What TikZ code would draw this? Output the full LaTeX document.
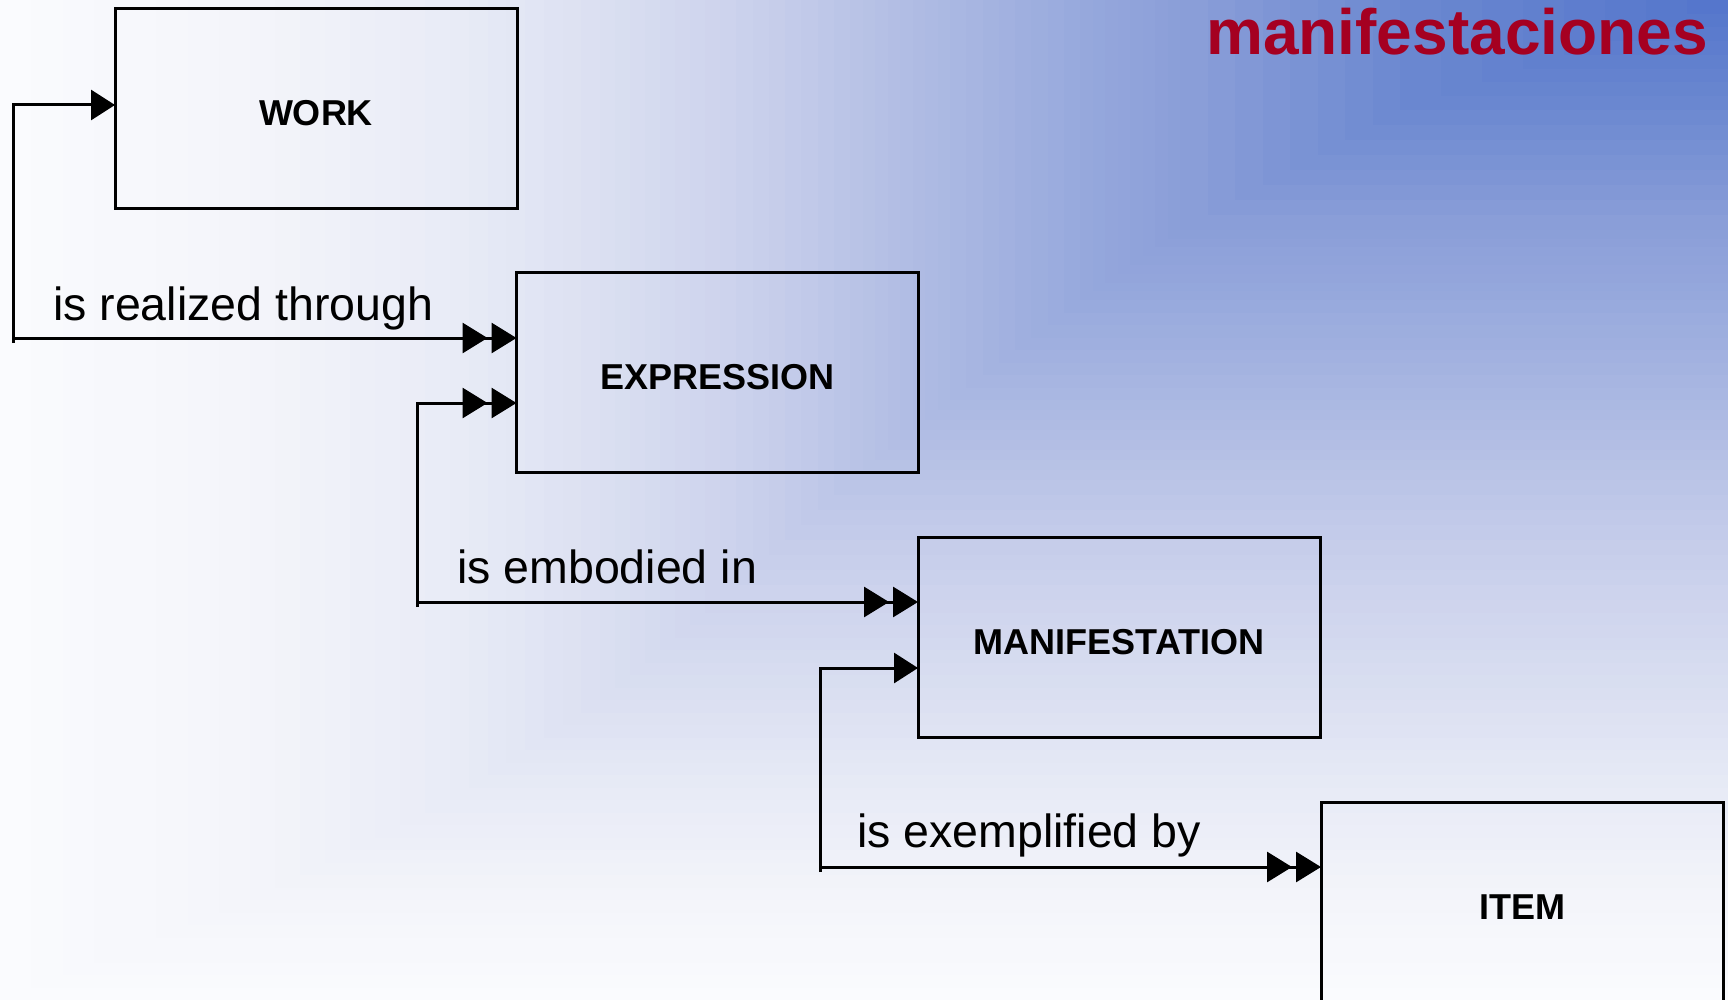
\documentclass[tikz,border=0pt]{standalone}
\usepackage{fontspec}
\setmainfont{Liberation Sans}
\usetikzlibrary{arrows.meta,calc}
\definecolor{s0}{HTML}{5274CB}
\definecolor{s1}{HTML}{6A87D0}
\definecolor{s2}{HTML}{8A9ED8}
\definecolor{s3}{HTML}{96A8DC}
\definecolor{s4}{HTML}{A9B7E2}
\definecolor{s5}{HTML}{B9C3E6}
\definecolor{s6}{HTML}{CDD3ED}
\definecolor{s7}{HTML}{DADFF1}
\definecolor{s8}{HTML}{E8EBF6}
\definecolor{s9}{HTML}{F3F4FA}
\definecolor{s10}{HTML}{FAFBFE}
\definecolor{titlered}{HTML}{A50021}
\tikzset{
  entity/.style={draw=black, line width=3pt, minimum width=402pt, minimum height=200pt,
    inner sep=0pt, outer sep=0pt, text height=34pt, text depth=0pt,
    font=\bfseries\fontsize{36}{40}\selectfont},
  rel/.style={line width=3pt, draw=black},
  onetip/.tip={Triangle[length=24pt,width=30pt]},
  manytip/.tip={Triangle[length=25pt,width=30pt,sep=4pt] Triangle[length=25pt,width=30pt]},
  lbl/.style={anchor=base west, inner sep=0pt, font=\fontsize{46.5}{50}\selectfont},
}
\begin{document}
\begin{tikzpicture}[x=1pt,y=-1pt]
\useasboundingbox (0,0) rectangle (1728,1000);
\clip (0,0) rectangle (1728,1000);
% background: box gradient towards the top right corner
\foreach \xa/\ya/\ca/\xb/\yb/\cb in {0/1000/s10/250/900/s9, 250/900/s9/450/800/s8,
  450/800/s8/600/700/s7, 600/700/s7/720/600/s6, 720/600/s6/850/480/s5,
  850/480/s5/950/400/s4, 950/400/s4/1080/300/s3, 1080/300/s3/1180/230/s2,
  1180/230/s2/1400/110/s1, 1400/110/s1/1728/0/s0}{
  \foreach \j in {0,...,7}{
    \pgfmathsetmacro\f{\j/8}
    \pgfmathsetmacro\xx{\xa+(\xb-\xa)*\f}
    \pgfmathsetmacro\yy{\ya+(\yb-\ya)*\f}
    \pgfmathsetmacro\pc{100*\f}
    \fill[\cb!\pc!\ca] (\xx,0) rectangle (1728,\yy);
  }
}
% title
\node[anchor=base east, inner sep=0pt, text=titlered, font=\bfseries\fontsize{64}{70}\selectfont] (title) at (1708,55) {manifestaciones};
% entities
\node[entity] (work) at (316,108.5) {WORK};
\node[entity] (expr) at (717.5,372.5) {EXPRESSION};
\node[entity] (manif) at (1119,637) {MANIFESTATION};
\node[entity] (item) at (1522,902) {ITEM};
% connector 1
\coordinate (a1) at (13,105);
\coordinate (a2) at (13,338);
\coordinate (a3) at (13,343);
\draw[rel,-onetip] (a3) -- (a1) -- (a1 -| work.west);
\draw[rel,-manytip] (a2) -- (a2 -| expr.west);
\node[lbl] (l1) at (53,320) {is realized through};
% connector 2
\coordinate (b1) at (417,403);
\coordinate (b2) at (417,602);
\coordinate (b3) at (417,607);
\draw[rel,-manytip] (b3) -- (b1) -- (b1 -| expr.west);
\draw[rel,-manytip] (b2) -- (b2 -| manif.west);
\node[lbl] (l2) at (457,583) {is embodied in};
% connector 3
\coordinate (c1) at (820,668);
\coordinate (c2) at (820,867);
\coordinate (c3) at (820,872);
\draw[rel,-onetip] (c3) -- (c1) -- (c1 -| manif.west);
\draw[rel,-manytip] (c2) -- (c2 -| item.west);
\node[lbl] (l3) at (857,847) {is exemplified by};
\end{tikzpicture}
\end{document}
